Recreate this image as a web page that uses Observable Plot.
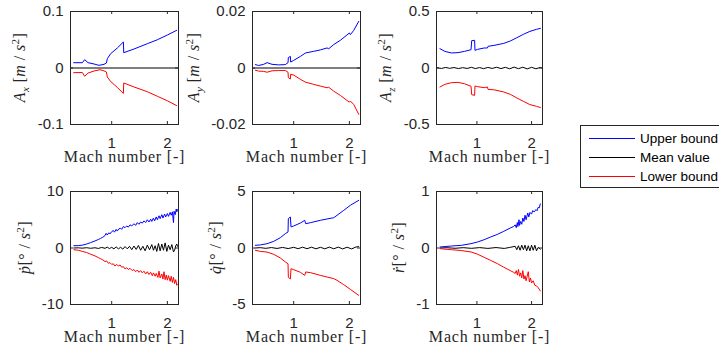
<!DOCTYPE html>
<html>
<head>
<meta charset="utf-8">
<script src="https://cdn.jsdelivr.net/npm/d3@7"></script>
<script src="https://cdn.jsdelivr.net/npm/@observablehq/plot@0.6"></script>
<style>
  html, body { margin: 0; padding: 0; background: #fff; overflow: hidden; }
  #root { position: relative; width: 719px; height: 357px; overflow: hidden; background: #fff; }
  #root > svg { position: absolute; }
  .legend { position: absolute; left: 580px; top: 125px; width: 160px; height: 63px; box-sizing: border-box;
            border: 1px solid #262626; background: #fff; font-family: "Liberation Sans", Arial, sans-serif; font-size: 13.5px; color: #000; }
  .legend .row { position: absolute; left: 0; height: 19px; width: 160px; }
  .legend .sw { position: absolute; left: 8px; top: 9px; width: 46px; height: 0; border-top: 1px solid; }
  .legend .lab { position: absolute; left: 59px; top: 1px; line-height: 17px; white-space: nowrap; }
</style>
</head>
<body>
<div id="root"></div>
<script>
// ---------- data (Mach number, value) ----------
const xDomain = [0.26, 2.2];
const xTicks = [1, 2];
const xLabel = "Mach number [-]";
const legendLabels = ["Upper bound", "Mean value", "Lower bound"];
const seriesColors = ["#0000ff", "#000000", "#ff0000"];

// A_x
const axUpper = [[0.317,0.0094],[0.473,0.0094],[0.515,0.0147],[0.575,0.0094],[0.683,0.0071],[0.772,0.0047],[0.862,0.0065],[0.904,0.0088],[0.922,0.0165],[0.982,0.0254],[1.102,0.0354],[1.21,0.046],[1.216,0.0271],[1.40,0.0336],[1.64,0.043],[1.82,0.050],[2.0,0.0584],[2.168,0.0667]];
const axMean  = [[0.26,0],[2.2,0]];
const axLower = [[0.317,-0.0083],[0.473,-0.008],[0.515,-0.0147],[0.575,-0.009],[0.683,-0.0053],[0.79,-0.003],[0.862,-0.005],[0.904,-0.007],[0.922,-0.016],[0.982,-0.024],[1.102,-0.0345],[1.21,-0.045],[1.216,-0.0265],[1.40,-0.0335],[1.64,-0.042],[1.82,-0.050],[2.0,-0.058],[2.168,-0.0667]];

// A_y
const ayUpper = [[0.311,0.0012],[0.371,0.0009],[0.461,0.0013],[0.521,0.0019],[0.611,0.0013],[0.731,0.0011],[0.85,0.0012],[0.898,0.0019],[0.904,0.0037],[0.94,0.0041],[0.946,0.0021],[1.0,0.0027],[1.12,0.0041],[1.21,0.0053],[1.359,0.0059],[1.479,0.0064],[1.599,0.0071],[1.629,0.0068],[1.719,0.0083],[1.838,0.0098],[1.958,0.0117],[2.0,0.0124],[2.018,0.0118],[2.078,0.0133],[2.168,0.0165]];
const ayMean  = [[0.26,0],[2.2,0]];
const ayLower = [[0.311,-0.0008],[0.371,-0.0011],[0.461,-0.0012],[0.521,-0.0015],[0.611,-0.001],[0.731,-0.0009],[0.85,-0.0009],[0.898,-0.0015],[0.904,-0.0034],[0.94,-0.0039],[0.946,-0.0022],[1.0,-0.0025],[1.12,-0.004],[1.21,-0.005],[1.359,-0.0058],[1.479,-0.0064],[1.599,-0.007],[1.629,-0.0068],[1.719,-0.0082],[1.838,-0.0097],[1.958,-0.0115],[2.0,-0.0121],[2.018,-0.0117],[2.078,-0.0129],[2.168,-0.0164]];

// A_z
const azUpper = [[0.323,0.171],[0.413,0.147],[0.533,0.133],[0.653,0.136],[0.772,0.147],[0.892,0.162],[0.904,0.242],[0.958,0.245],[0.964,0.156],[1.012,0.165],[1.132,0.177],[1.192,0.177],[1.204,0.192],[1.311,0.2],[1.491,0.218],[1.611,0.239],[1.731,0.268],[1.85,0.298],[1.97,0.324],[2.09,0.342],[2.162,0.351]];
const azMean  = [[0.27,0.002],[0.35,-0.004],[0.43,0.005],[0.5,-0.003],[0.58,0.004],[0.66,-0.005],[0.74,0.003],[0.82,-0.004],[0.9,0.006],[0.97,-0.005],[1.05,0.004],[1.12,-0.006],[1.2,0.005],[1.28,-0.004],[1.36,0.007],[1.44,-0.005],[1.52,0.006],[1.6,-0.007],[1.68,0.008],[1.76,-0.006],[1.84,0.007],[1.92,-0.008],[2.0,0.006],[2.08,-0.007],[2.16,0.005],[2.19,-0.002]];
const azLower = [[0.323,-0.168],[0.413,-0.145],[0.533,-0.13],[0.653,-0.127],[0.772,-0.139],[0.892,-0.162],[0.904,-0.236],[0.958,-0.242],[0.964,-0.16],[1.012,-0.165],[1.132,-0.174],[1.192,-0.168],[1.204,-0.19],[1.311,-0.193],[1.491,-0.212],[1.611,-0.233],[1.731,-0.265],[1.85,-0.295],[1.97,-0.324],[2.09,-0.339],[2.162,-0.35]];

// p-dot
const pUpper = [[0.32,0.4],[0.40,0.42],[0.47,0.5],[0.55,0.7],[0.62,0.95],[0.70,1.25],[0.76,1.5],[0.80,1.7],[0.84,1.9],[0.88,2.2],[0.90,2.6],[0.92,2.3],[0.95,2.7],[0.97,2.5],[1.0,2.9],[1.03,3.1],[1.05,2.8],[1.08,3.3],[1.10,3.0],[1.13,3.4],[1.16,3.5],[1.18,3.3],[1.21,3.8],[1.24,3.6],[1.27,3.9],[1.30,3.7],[1.33,4.1],[1.36,3.9],[1.40,4.3],[1.43,4.0],[1.46,4.5],[1.49,4.2],[1.52,4.6],[1.55,4.4],[1.58,4.8],[1.61,4.5],[1.64,5.0],[1.67,4.6],[1.70,5.1],[1.72,4.7],[1.75,5.3],[1.77,4.8],[1.80,5.5],[1.82,5.0],[1.85,5.7],[1.87,5.2],[1.90,5.9],[1.92,5.3],[1.95,6.0],[1.97,5.5],[2.0,6.1],[2.02,5.6],[2.05,6.3],[2.07,5.8],[2.09,6.4],[2.11,4.5],[2.12,6.5],[2.14,5.9],[2.16,6.9],[2.17,6.4],[2.18,6.8]];
const pMean  = [[0.32,0],[0.40,0.03],[0.47,-0.03],[0.55,0.05],[0.62,-0.05],[0.70,0.04],[0.76,-0.08],[0.82,0.1],[0.88,-0.06],[0.92,0.15],[0.96,-0.1],[1.0,0.12],[1.04,-0.15],[1.08,0.2],[1.12,-0.15],[1.16,0.12],[1.2,-0.2],[1.24,0.25],[1.28,-0.15],[1.32,0.3],[1.36,-0.3],[1.40,0.35],[1.44,-0.25],[1.48,0.45],[1.52,-0.4],[1.56,0.3],[1.60,-0.5],[1.64,0.5],[1.68,-0.3],[1.72,0.6],[1.75,-0.4],[1.78,0.4],[1.81,-0.6],[1.84,0.8],[1.87,-0.5],[1.90,0.7],[1.93,-0.4],[1.96,0.9],[1.99,-0.6],[2.02,0.5],[2.05,-0.3],[2.08,0.6],[2.11,-0.7],[2.13,-0.4],[2.15,0.4],[2.17,0.7],[2.18,0.3]];
const pLower = [[0.32,-0.3],[0.40,-0.4],[0.47,-0.6],[0.55,-0.8],[0.62,-1.1],[0.70,-1.4],[0.76,-1.7],[0.80,-1.9],[0.84,-2.1],[0.88,-2.4],[0.91,-2.3],[0.94,-2.7],[0.97,-2.6],[1.0,-2.9],[1.03,-2.8],[1.06,-3.2],[1.09,-2.9],[1.12,-3.2],[1.15,-3.0],[1.18,-3.4],[1.21,-3.3],[1.24,-3.7],[1.27,-3.5],[1.30,-3.8],[1.33,-3.6],[1.37,-4.0],[1.40,-3.8],[1.43,-4.2],[1.46,-3.9],[1.49,-4.3],[1.52,-4.0],[1.55,-4.4],[1.58,-4.1],[1.61,-4.6],[1.64,-4.2],[1.67,-4.7],[1.70,-4.3],[1.73,-4.9],[1.75,-4.4],[1.78,-5.0],[1.80,-4.5],[1.83,-5.2],[1.85,-4.1],[1.87,-5.3],[1.90,-4.6],[1.92,-5.5],[1.94,-4.2],[1.96,-5.6],[1.98,-4.8],[2.0,-5.7],[2.02,-4.9],[2.05,-5.9],[2.07,-5.0],[2.09,-6.1],[2.11,-5.2],[2.13,-6.3],[2.15,-5.6],[2.17,-6.6],[2.18,-6.4]];

// q-dot
const qUpper = [[0.311,0.24],[0.401,0.27],[0.521,0.38],[0.641,0.59],[0.76,0.91],[0.85,1.27],[0.898,1.42],[0.904,2.6],[0.94,2.74],[0.952,1.86],[1.0,1.95],[1.12,2.21],[1.198,2.45],[1.216,2.15],[1.299,2.24],[1.479,2.45],[1.599,2.57],[1.719,2.68],[1.778,2.89],[1.898,3.33],[2.018,3.78],[2.168,4.22]];
const qMean  = [[0.311,0],[0.4,0.03],[0.5,-0.03],[0.6,0.04],[0.7,-0.04],[0.8,0.05],[0.9,-0.05],[1.0,0.06],[1.08,-0.06],[1.16,0.07],[1.24,-0.06],[1.32,0.07],[1.4,-0.07],[1.48,0.06],[1.56,-0.07],[1.64,0.08],[1.72,-0.07],[1.8,0.08],[1.88,-0.08],[1.96,0.07],[2.04,-0.08],[2.12,0.09],[2.168,0.12]];
const qLower = [[0.311,-0.2],[0.401,-0.3],[0.521,-0.36],[0.641,-0.56],[0.76,-0.88],[0.85,-1.24],[0.898,-1.39],[0.904,-2.6],[0.94,-2.74],[0.952,-1.83],[1.0,-1.92],[1.12,-2.15],[1.198,-2.42],[1.216,-2.12],[1.299,-2.18],[1.479,-2.42],[1.599,-2.57],[1.719,-2.71],[1.778,-2.86],[1.898,-3.24],[2.018,-3.66],[2.168,-4.19]];

// r-dot
const rUpper = [[0.323,0.018],[0.533,0.035],[0.713,0.047],[0.892,0.077],[1.012,0.106],[1.132,0.147],[1.251,0.195],[1.371,0.24],[1.491,0.295],[1.611,0.354],[1.671,0.38],[1.70,0.41],[1.72,0.36],[1.74,0.45],[1.75,0.38],[1.77,0.50],[1.78,0.40],[1.80,0.47],[1.82,0.42],[1.84,0.53],[1.86,0.47],[1.88,0.58],[1.90,0.50],[1.93,0.62],[1.95,0.55],[1.97,0.63],[2.0,0.60],[2.02,0.66],[2.05,0.64],[2.08,0.68],[2.10,0.66],[2.12,0.72],[2.14,0.71],[2.16,0.78]];
const rMean  = [[0.323,0],[0.45,0.005],[0.6,-0.005],[0.75,0.006],[0.9,-0.006],[1.05,0.007],[1.2,-0.007],[1.35,0.008],[1.5,-0.008],[1.6,0.01],[1.70,0.03],[1.73,-0.03],[1.76,0.04],[1.79,-0.04],[1.82,0.05],[1.85,-0.03],[1.88,0.05],[1.91,-0.05],[1.94,0.04],[1.97,-0.05],[2.0,0.05],[2.03,-0.04],[2.06,0.05],[2.09,-0.05],[2.12,0.01],[2.16,-0.02]];
const rLower = [[0.323,-0.012],[0.533,-0.03],[0.713,-0.045],[0.892,-0.07],[1.012,-0.11],[1.132,-0.165],[1.251,-0.22],[1.371,-0.275],[1.491,-0.34],[1.611,-0.40],[1.67,-0.43],[1.70,-0.45],[1.72,-0.40],[1.74,-0.48],[1.76,-0.38],[1.78,-0.50],[1.80,-0.44],[1.82,-0.53],[1.84,-0.40],[1.86,-0.55],[1.88,-0.49],[1.90,-0.58],[1.92,-0.50],[1.94,-0.42],[1.96,-0.60],[1.98,-0.53],[2.0,-0.62],[2.03,-0.58],[2.06,-0.66],[2.09,-0.67],[2.12,-0.70],[2.16,-0.76]];

const yTicksAx = [-0.1, 0, 0.1];
const yTicksAy = [-0.02, 0, 0.02];
const yTicksAz = [-0.5, 0, 0.5];
const yTicksP = [-10, 0, 10];
const yTicksQ = [-5, 0, 5];
const yTicksR = [-1, 0, 1];

// y labels as [text, style] parts: i = italic, sub = subscript, sup = superscript
const labelAx = [["A","i"],["x","isub"],[" [",""],["m","i"],[" / ",""],["s","i"],["2","sup"],["]",""]];
const labelAy = [["A","i"],["y","isub"],[" [",""],["m","i"],[" / ",""],["s","i"],["2","sup"],["]",""]];
const labelAz = [["A","i"],["z","isub"],[" [",""],["m","i"],[" / ",""],["s","i"],["2","sup"],["]",""]];
const labelP = [["\u1E57","i"],["[\u00B0 / ",""],["s","i"],["2","sup"],["]",""]];
const labelQ = [["q\u0307","i"],["[\u00B0 / ",""],["s","i"],["2","sup"],["]",""]];
const labelR = [["\u1E59","i"],["[\u00B0 / ",""],["s","i"],["2","sup"],["]",""]];

// ---------- layout ----------
const root = document.getElementById("root");
const ML = 65, MR = 12, MT = 11, FH = 113, MB = 54;
const colLeft = [70, 252, 436];
const colWidth = [108, 108, 106];
const rowTop = [0, 180];
const TICK = 3;
const AX = "#262626";
const SANS = "'Liberation Sans', Arial, Helvetica, sans-serif";
const SERIF = "'Liberation Serif', 'Times New Roman', serif";

function panel(col, row, upper, mean, lower, yTicks, labelParts, labelOffset) {
  const fw = colWidth[col];
  const yDomain = [yTicks[0], yTicks[yTicks.length - 1]];
  const fmt = d => String(d);
  const svg = Plot.plot({
    width: ML + fw + MR,
    height: MT + FH + MB,
    marginLeft: ML, marginRight: MR, marginTop: MT, marginBottom: MB,
    style: {background: "transparent", overflow: "visible"},
    x: {domain: xDomain},
    y: {domain: yDomain},
    marks: [
      Plot.line(mean,  {x: d => d[0], y: d => d[1], stroke: seriesColors[1], strokeWidth: 1}),
      Plot.line(upper, {x: d => d[0], y: d => d[1], stroke: seriesColors[0], strokeWidth: 1}),
      Plot.line(lower, {x: d => d[0], y: d => d[1], stroke: seriesColors[2], strokeWidth: 1}),
      Plot.tickX(xTicks, {x: d => d, insetTop: FH - TICK, stroke: AX}),
      Plot.tickX(xTicks, {x: d => d, insetBottom: FH - TICK, stroke: AX}),
      Plot.tickY(yTicks, {y: d => d, insetRight: fw - TICK, stroke: AX}),
      Plot.tickY(yTicks, {y: d => d, insetLeft: fw - TICK, stroke: AX}),
      Plot.frame({stroke: AX, strokeWidth: 1}),
      Plot.axisX({ticks: xTicks, tickSize: 0, tickPadding: 13, tickFormat: fmt, label: null,
                  fontSize: 15, fontFamily: SANS, fill: AX}),
      Plot.axisY({ticks: yTicks, tickSize: 0, tickPadding: 7, tickFormat: fmt, label: null,
                  fontSize: 15, fontFamily: SANS, fill: AX}),
      Plot.text([xLabel], {frameAnchor: "bottom", dy: 37, text: d => d, fontFamily: SERIF,
                           fontSize: 16, fill: AX})
    ]
  });
  svg.style.left = (colLeft[col] - ML) + "px";
  svg.style.top = rowTop[row] + "px";
  // widen the serif x label slightly (Computer Modern is wider than Times)
  d3.select(svg).selectAll("text").filter(function () { return this.textContent === xLabel; })
    .style("letter-spacing", "0.8px");
  // y label with sub/superscripts
  const t = d3.select(svg).append("text")
    .attr("transform", `translate(${ML - labelOffset},${MT + FH / 2}) rotate(-90)`)
    .attr("text-anchor", "middle")
    .attr("fill", AX)
    .style("font-family", SERIF)
    .style("font-size", "16px")
    .style("letter-spacing", "0.4px");
  let shift = 0;
  for (const [txt, st] of labelParts) {
    let target = 0, size = 16;
    if (st.includes("sub")) { target = 4; size = 11; }
    if (st.includes("sup")) { target = -6; size = 11; }
    const ts = t.append("tspan").text(txt).attr("dy", target - shift).style("font-size", size + "px");
    if (st.includes("i")) ts.style("font-style", "italic");
    shift = target;
  }
  root.appendChild(svg);
}

panel(0, 0, axUpper, axMean, axLower, yTicksAx, labelAx, 45);
panel(1, 0, ayUpper, ayMean, ayLower, yTicksAy, labelAy, 53);
panel(2, 0, azUpper, azMean, azLower, yTicksAz, labelAz, 45);
panel(0, 1, pUpper, pMean, pLower, yTicksP, labelP, 40);
panel(1, 1, qUpper, qMean, qLower, yTicksQ, labelQ, 31);
panel(2, 1, rUpper, rMean, rLower, yTicksR, labelR, 32);

// legend
const leg = document.createElement("div");
leg.className = "legend";
legendLabels.forEach((name, i) => {
  const row = document.createElement("div");
  row.className = "row";
  row.style.top = (3 + i * 19) + "px";
  const sw = document.createElement("div");
  sw.className = "sw";
  sw.style.borderTopColor = seriesColors[i];
  const lab = document.createElement("div");
  lab.className = "lab";
  lab.textContent = name;
  row.appendChild(sw); row.appendChild(lab);
  leg.appendChild(row);
});
root.appendChild(leg);
</script>
</body>
</html>
